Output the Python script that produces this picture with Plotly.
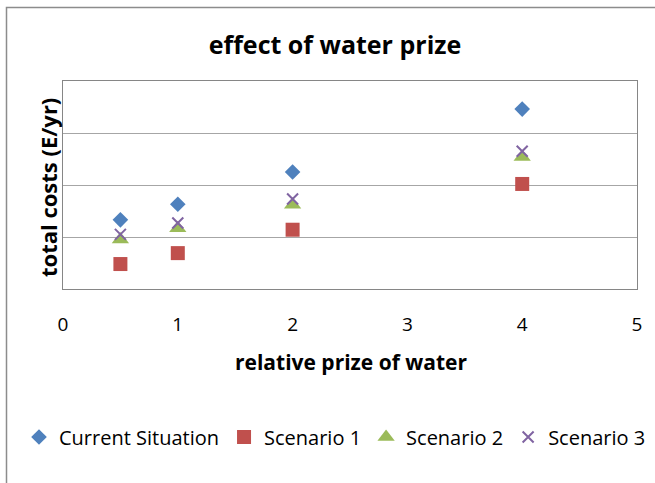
import plotly.graph_objects as go

x_vals = [0.5, 1, 2, 4]
current = [1.33, 1.63, 2.25, 3.46]
scenario1 = [0.48, 0.69, 1.14, 2.02]
scenario2 = [0.95, 1.17, 1.62, 2.54]
scenario3 = [1.05, 1.27, 1.73, 2.65]
series_names = ["Current Situation", "Scenario 1", "Scenario 2", "Scenario 3"]
x_ticks = [0, 1, 2, 3, 4, 5]

FONT = "Open Sans, sans-serif"

fig = go.Figure()
fig.add_trace(go.Scatter(x=x_vals, y=current, mode="markers", name=series_names[0],
                         marker=dict(symbol="diamond", size=12, color="#4F81BD")))
fig.add_trace(go.Scatter(x=x_vals, y=scenario1, mode="markers", name=series_names[1],
                         marker=dict(symbol="square", size=14, color="#C0504D")))
fig.add_trace(go.Scatter(x=x_vals, y=scenario2, mode="markers", name=series_names[2],
                         marker=dict(symbol="triangle-up", size=15, color="#9BBB59")))
fig.add_trace(go.Scatter(x=x_vals, y=scenario3, mode="markers", name=series_names[3],
                         marker=dict(symbol="x-thin", size=11, color="#8064A2",
                                     line=dict(width=2, color="#8064A2"))))

L, R, T, B = 63, 18, 81, 194
W, H = 655, 483
pw = W - L - R
ph = H - T - B

def px_to_paper_x(px):
    return (px - L) / pw

def py_to_paper_y(py):
    return (H - B - py) / ph

fig.update_layout(
    width=W, height=H,
    margin=dict(l=L, r=R, t=T, b=B),
    paper_bgcolor="white", plot_bgcolor="white",
    font=dict(family=FONT, color="black"),
    title=dict(text="<b>effect of water prize</b>", x=335 / W,
               xanchor="center", y=1 - 45 / H, yanchor="middle", yref="container",
               font=dict(size=25, family=FONT, color="black")),
    xaxis=dict(range=[0, 5], tickvals=x_ticks, ticktext=[str(v) for v in x_ticks],
               showgrid=False, zeroline=False, showline=True, linecolor="#868686",
               linewidth=1, mirror=True, ticks="", ticklabelstandoff=18,
               tickfont=dict(size=19, family=FONT, color="black")),
    yaxis=dict(range=[0, 4], dtick=1, showticklabels=False, showgrid=True,
               gridcolor="#A6A6A6", gridwidth=1, zeroline=False, showline=True,
               linecolor="#868686", linewidth=1, mirror=True, ticks=""),
    legend=dict(orientation="h", x=px_to_paper_x(19), xanchor="left",
                y=py_to_paper_y(437), yanchor="middle",
                font=dict(size=20, family=FONT, color="black"),
                itemwidth=30, tracegroupgap=0, bgcolor="rgba(0,0,0,0)"),
    showlegend=True,
)

fig.add_annotation(text="<b>relative prize of water</b>", xref="paper", yref="paper",
                   x=px_to_paper_x(351), y=py_to_paper_y(362), showarrow=False,
                   xanchor="center", yanchor="middle",
                   font=dict(size=21, family=FONT, color="black"))
fig.add_annotation(text="<b>total costs (E/yr)</b>", xref="paper", yref="paper",
                   x=px_to_paper_x(48), y=py_to_paper_y(188), showarrow=False,
                   textangle=-90, xanchor="center", yanchor="middle",
                   font=dict(size=22, family=FONT, color="black"))

fig.add_shape(type="rect", xref="paper", yref="paper",
              x0=px_to_paper_x(6.5), x1=px_to_paper_x(700),
              y0=py_to_paper_y(600), y1=py_to_paper_y(7.5),
              line=dict(color="#8C8C8C", width=1.5), fillcolor="rgba(0,0,0,0)",
              layer="below")

fig.write_html("out.html", config={"displayModeBar": False},
               post_script="document.body.style.margin='0';document.body.style.overflow='hidden';")
